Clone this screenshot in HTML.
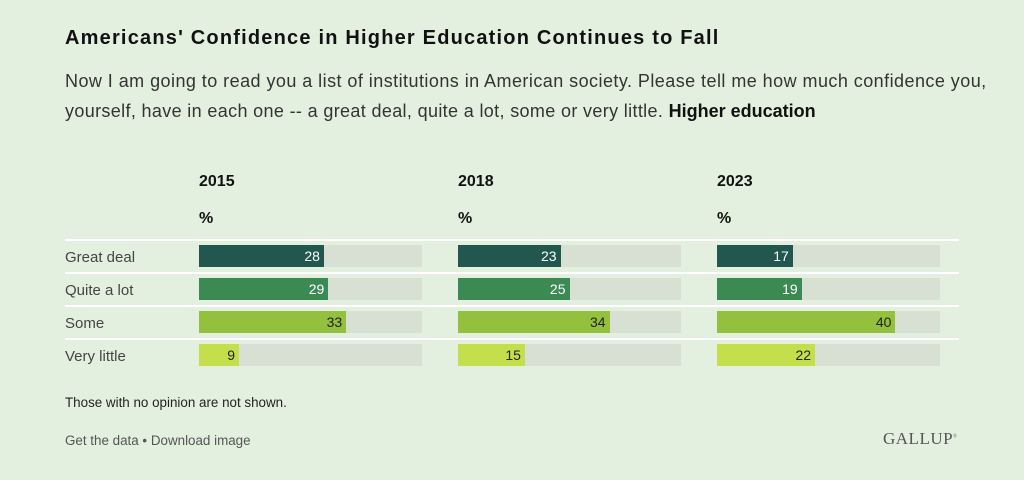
<!DOCTYPE html><html><head><style>
body{margin:0;width:1024px;height:480px;background:#e4f0df;font-family:"Liberation Sans",sans-serif;color:#333;position:relative;overflow:hidden}
.a{position:absolute;white-space:nowrap}
.line{position:absolute;left:65px;width:894px;height:2px;background:#fff}
.trk{position:absolute;width:223px;height:22px;background:#d8e0d4}
.bar{position:absolute;left:0;top:0;height:22px;font-size:14px;line-height:22px;text-align:right;box-sizing:border-box;padding-right:4px}
.lbl{position:absolute;left:65px;font-size:15px;color:#444}
</style></head><body>
<div class="a" style="left:65px;top:27px;font-size:20px;letter-spacing:1.2px;font-weight:bold;color:#111">Americans' Confidence in Higher Education Continues to Fall</div>
<div class="a" style="left:65px;top:71px;font-size:18px;letter-spacing:0.45px;color:#333">Now I am going to read you a list of institutions in American society. Please tell me how much confidence you,</div>
<div class="a" style="left:65px;top:101px;font-size:18px;letter-spacing:0.35px;color:#333">yourself, have in each one -- a great deal, quite a lot, some or very little. <b style="color:#111;letter-spacing:0">Higher education</b></div>
<div class="a" style="left:199px;top:173px;font-size:16px;font-weight:bold;color:#111">2015</div>
<div class="a" style="left:458px;top:173px;font-size:16px;font-weight:bold;color:#111">2018</div>
<div class="a" style="left:717px;top:173px;font-size:16px;font-weight:bold;color:#111">2023</div>
<div class="a" style="left:199px;top:210px;font-size:16px;font-weight:bold;color:#111">%</div>
<div class="a" style="left:458px;top:210px;font-size:16px;font-weight:bold;color:#111">%</div>
<div class="a" style="left:717px;top:210px;font-size:16px;font-weight:bold;color:#111">%</div>
<div class="line" style="top:239px"></div><div class="line" style="top:272px"></div><div class="line" style="top:305px"></div><div class="line" style="top:338px"></div>
<div class="lbl" style="top:249px">Great deal</div>
<div class="lbl" style="top:282px">Quite a lot</div>
<div class="lbl" style="top:315px">Some</div>
<div class="lbl" style="top:348px">Very little</div>
<div id="c"></div>
<script>
var d=[[28,29,33,9],[23,25,34,15],[17,19,40,22]],xs=[199,458,717],ys=[245,278,311,344],
cols=['#21574f','#3b8a54','#93c13d','#c5de4c'],tc=['#fff','#fff','#222','#222'],h='';
for(var i=0;i<3;i++)for(var j=0;j<4;j++){h+='<div class="trk" style="left:'+xs[i]+'px;top:'+ys[j]+'px"><div class="bar" style="width:'+(d[i][j]*4.46).toFixed(1)+'px;background:'+cols[j]+';color:'+tc[j]+'">'+d[i][j]+'</div></div>';}
document.getElementById('c').innerHTML=h;
</script>
<div class="a" style="left:65px;top:395px;font-size:13.4px;color:#222">Those with no opinion are not shown.</div>
<div class="a" style="left:65px;top:433px;font-size:13.4px;color:#555">Get the data • Download image</div>
<div class="a" style="left:883px;top:429px;font-size:17px;font-family:'Liberation Serif',serif;color:#555;letter-spacing:0.5px">GALLUP<sup style="font-size:5px">®</sup></div>
</body></html>
